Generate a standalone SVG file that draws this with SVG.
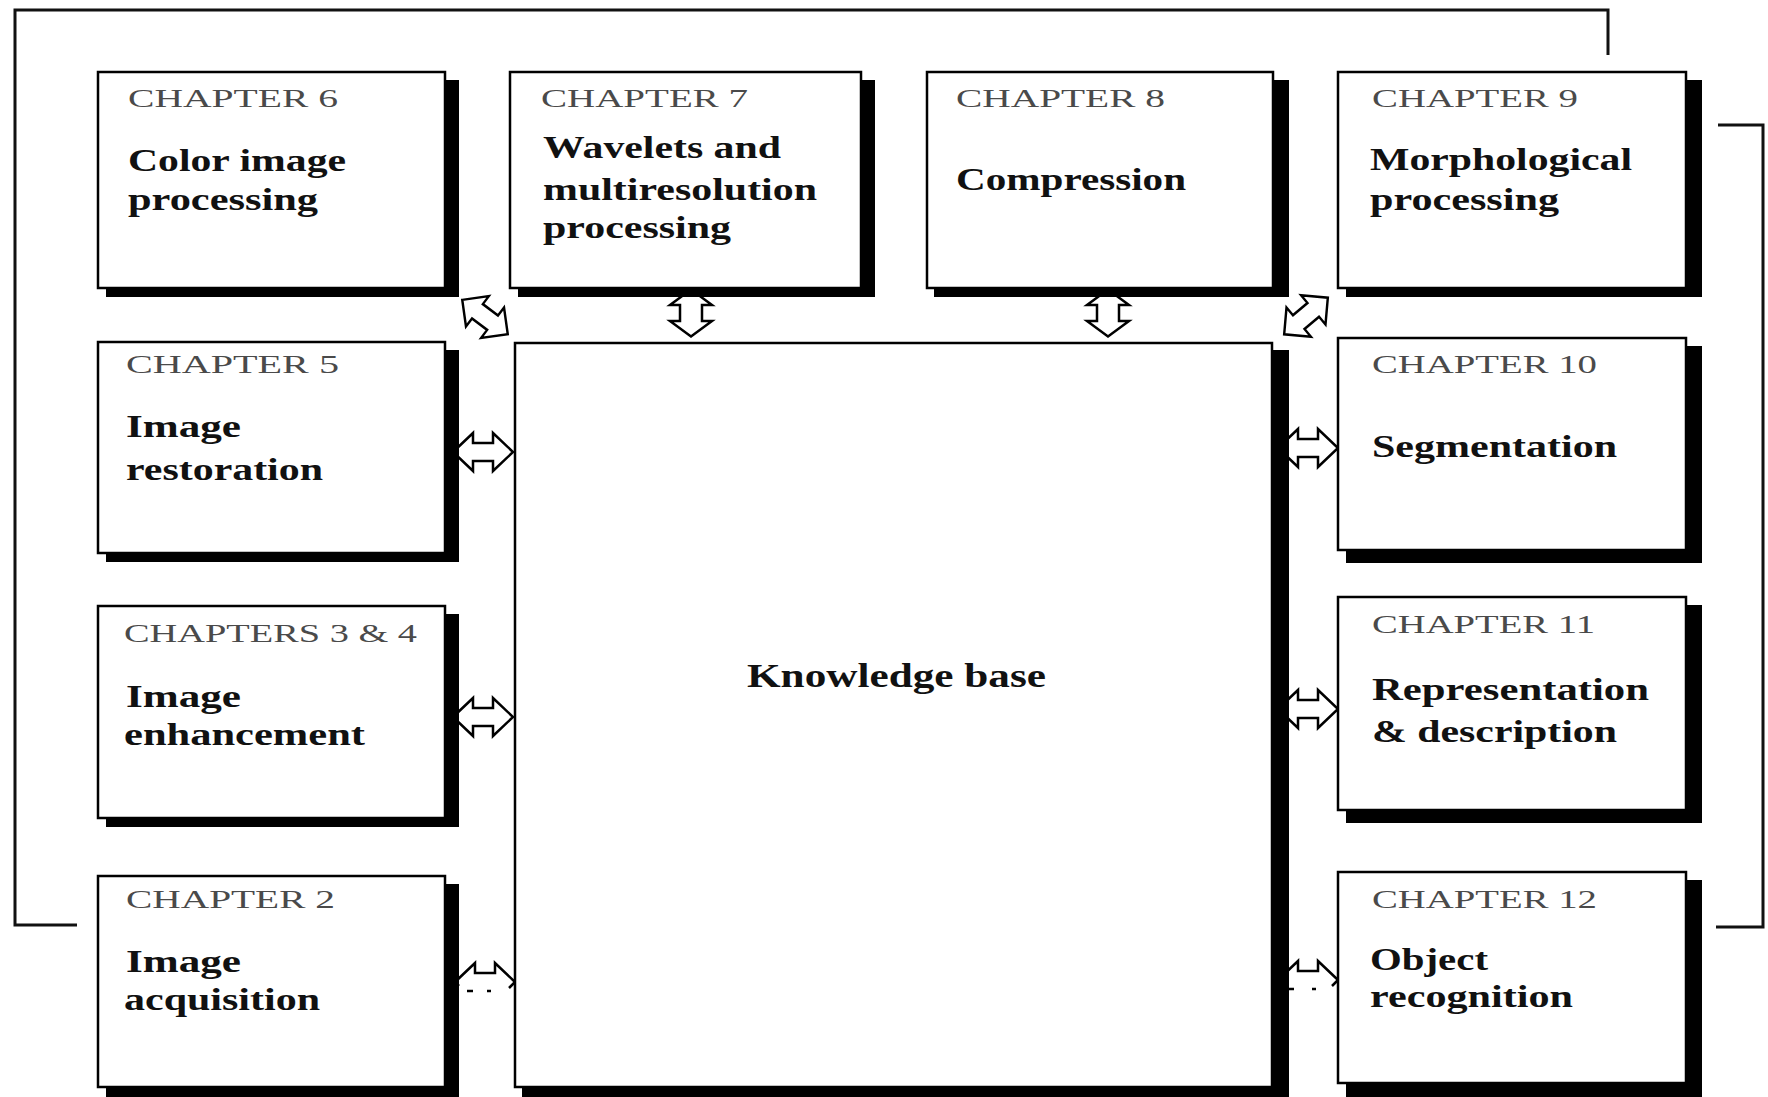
<svg xmlns="http://www.w3.org/2000/svg" width="1768" height="1097" viewBox="0 0 1768 1097">
<defs>
<style>
.box{fill:#fff;stroke:#000;stroke-width:2.5}
.sh{fill:#000}
.lbl{font-family:"Liberation Serif",serif;font-size:26px;fill:#4a4a4a}
.txt{font-family:"Liberation Serif",serif;font-size:32px;font-weight:bold;fill:#111}
.kb{font-family:"Liberation Serif",serif;font-size:34px;font-weight:bold;fill:#111}
.fb{fill:none;stroke:#111;stroke-width:3}
.arr{fill:#fff;stroke:#000;stroke-width:2.5;stroke-linejoin:miter}
.brk{fill:none;stroke:#000;stroke-width:2.5}
</style>
<path id="harrow" d="M-30,0 L-10,-19 L-10,-9 L10,-9 L10,-19 L30,0 L10,19 L10,9 L-10,9 L-10,19 Z"/>
<path id="varrow" d="M0,-23.5 L-21,-8 L-11,-8 L-11,8 L-21,8 L0,23.5 L21,8 L11,8 L11,-8 L21,-8 Z"/>
</defs>
<rect width="1768" height="1097" fill="#fff"/>

<g id="connectors">
<polyline class="fb" points="1608,55 1608,10 15,10 15,925 77,925"/>
<polyline class="fb" points="1718,125 1763,125 1763,927 1716,927"/>
<use href="#harrow" class="arr" transform="translate(485,317) rotate(37) scale(0.95,1)"/>
<use href="#varrow" class="arr" transform="translate(691,313)"/>
<use href="#varrow" class="arr" transform="translate(1108,313)"/>
<use href="#harrow" class="arr" transform="translate(1306,316) rotate(-40) scale(0.95,1)"/>
<use href="#harrow" class="arr" transform="translate(483,452)"/>
<use href="#harrow" class="arr" transform="translate(483,717)"/>
<use href="#harrow" class="arr" transform="translate(1308,448)"/>
<use href="#harrow" class="arr" transform="translate(1308,709)"/>
<g transform="translate(485,982)">
<path class="brk" d="M-30,0 L-10,-19 L-10,-9 L10,-9 L10,-19 L30,0"/>
<path class="brk" d="M30,0 L24,6 M-30,0 L-26,4 M-18,9 L-12,9 M2,9 L6,9"/>
</g>
<g transform="translate(1308,980)">
<path class="brk" d="M-30,0 L-10,-19 L-10,-9 L10,-9 L10,-19 L30,0"/>
<path class="brk" d="M30,0 L24,6 M-30,0 L-26,4 M-22,9 L-14,9 M4,9 L8,9"/>
</g>
</g>

<g id="kb">
<rect class="sh" x="522" y="350" width="767" height="747"/>
<rect class="box" x="515" y="343" width="757" height="744"/>
<text class="kb" x="747" y="687" textLength="299" lengthAdjust="spacingAndGlyphs">Knowledge base</text>
</g>

<g id="ch6">
<rect class="sh" x="106" y="80" width="353" height="217"/>
<rect class="box" x="98" y="72" width="347" height="216"/>
<text class="lbl" x="128" y="107" textLength="210" lengthAdjust="spacingAndGlyphs">CHAPTER 6</text>
<text class="txt" x="128" y="171" textLength="218" lengthAdjust="spacingAndGlyphs">Color image</text>
<text class="txt" x="128" y="210" textLength="190" lengthAdjust="spacingAndGlyphs">processing</text>
</g>

<g id="ch7">
<rect class="sh" x="518" y="80" width="357" height="217"/>
<rect class="box" x="510" y="72" width="351" height="216"/>
<text class="lbl" x="541" y="107" textLength="207" lengthAdjust="spacingAndGlyphs">CHAPTER 7</text>
<text class="txt" x="543" y="158" textLength="238" lengthAdjust="spacingAndGlyphs">Wavelets and</text>
<text class="txt" x="543" y="200" textLength="274" lengthAdjust="spacingAndGlyphs">multiresolution</text>
<text class="txt" x="543" y="238" textLength="188" lengthAdjust="spacingAndGlyphs">processing</text>
</g>

<g id="ch8">
<rect class="sh" x="934" y="80" width="355" height="217"/>
<rect class="box" x="927" y="72" width="346" height="216"/>
<text class="lbl" x="956" y="107" textLength="209" lengthAdjust="spacingAndGlyphs">CHAPTER 8</text>
<text class="txt" x="956" y="190" textLength="230" lengthAdjust="spacingAndGlyphs">Compression</text>
</g>

<g id="ch9">
<rect class="sh" x="1346" y="80" width="356" height="217"/>
<rect class="box" x="1338" y="72" width="348" height="216"/>
<text class="lbl" x="1372" y="107" textLength="206" lengthAdjust="spacingAndGlyphs">CHAPTER 9</text>
<text class="txt" x="1370" y="170" textLength="262" lengthAdjust="spacingAndGlyphs">Morphological</text>
<text class="txt" x="1370" y="210" textLength="189" lengthAdjust="spacingAndGlyphs">processing</text>
</g>

<g id="ch5">
<rect class="sh" x="106" y="350" width="353" height="212"/>
<rect class="box" x="98" y="342" width="347" height="211"/>
<text class="lbl" x="126" y="373" textLength="213" lengthAdjust="spacingAndGlyphs">CHAPTER 5</text>
<text class="txt" x="126" y="437" textLength="115" lengthAdjust="spacingAndGlyphs">Image</text>
<text class="txt" x="126" y="480" textLength="197" lengthAdjust="spacingAndGlyphs">restoration</text>
</g>

<g id="ch3-4">
<rect class="sh" x="106" y="614" width="353" height="213"/>
<rect class="box" x="98" y="606" width="347" height="212"/>
<text class="lbl" x="124" y="642" textLength="293" lengthAdjust="spacingAndGlyphs">CHAPTERS 3 &amp; 4</text>
<text class="txt" x="126" y="707" textLength="115" lengthAdjust="spacingAndGlyphs">Image</text>
<text class="txt" x="124" y="745" textLength="241" lengthAdjust="spacingAndGlyphs">enhancement</text>
</g>

<g id="ch2">
<rect class="sh" x="106" y="884" width="353" height="213"/>
<rect class="box" x="98" y="876" width="347" height="211"/>
<text class="lbl" x="126" y="908" textLength="209" lengthAdjust="spacingAndGlyphs">CHAPTER 2</text>
<text class="txt" x="126" y="972" textLength="115" lengthAdjust="spacingAndGlyphs">Image</text>
<text class="txt" x="124" y="1010" textLength="196" lengthAdjust="spacingAndGlyphs">acquisition</text>
</g>

<g id="ch10">
<rect class="sh" x="1346" y="346" width="356" height="217"/>
<rect class="box" x="1338" y="338" width="348" height="212"/>
<text class="lbl" x="1372" y="373" textLength="225" lengthAdjust="spacingAndGlyphs">CHAPTER 10</text>
<text class="txt" x="1372" y="457" textLength="245" lengthAdjust="spacingAndGlyphs">Segmentation</text>
</g>

<g id="ch11">
<rect class="sh" x="1346" y="605" width="356" height="218"/>
<rect class="box" x="1338" y="597" width="348" height="213"/>
<text class="lbl" x="1372" y="633" textLength="223" lengthAdjust="spacingAndGlyphs">CHAPTER 11</text>
<text class="txt" x="1372" y="700" textLength="277" lengthAdjust="spacingAndGlyphs">Representation</text>
<text class="txt" x="1372" y="742" textLength="245" lengthAdjust="spacingAndGlyphs">&amp; description</text>
</g>

<g id="ch12">
<rect class="sh" x="1346" y="880" width="356" height="217"/>
<rect class="box" x="1338" y="872" width="348" height="211"/>
<text class="lbl" x="1372" y="908" textLength="225" lengthAdjust="spacingAndGlyphs">CHAPTER 12</text>
<text class="txt" x="1370" y="970" textLength="118" lengthAdjust="spacingAndGlyphs">Object</text>
<text class="txt" x="1370" y="1007" textLength="203" lengthAdjust="spacingAndGlyphs">recognition</text>
</g>
</svg>
